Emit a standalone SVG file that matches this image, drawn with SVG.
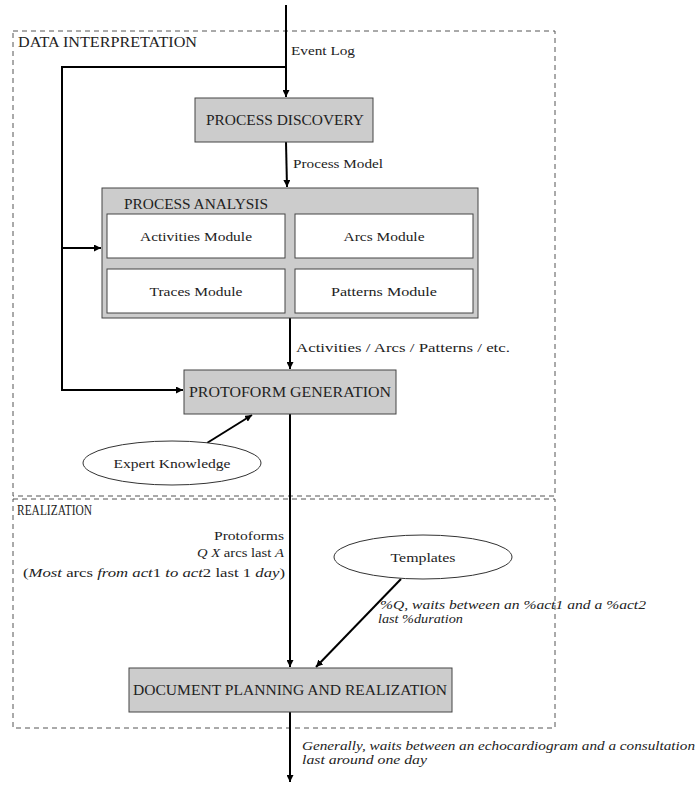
<svg xmlns="http://www.w3.org/2000/svg" width="697" height="785" viewBox="0 0 697 785">
<defs>
<marker id="ah" viewBox="0 0 10 10" refX="10" refY="5" markerWidth="7" markerHeight="7" markerUnits="userSpaceOnUse" orient="auto"><path d="M0,0 L10,5 L0,10 z" fill="#000"/></marker>
<style>
text{font-family:"Liberation Serif","DejaVu Serif",serif;fill:#222;}
.box{fill:#cccccc;stroke:#444;stroke-width:1;}
.wbox{fill:#fff;stroke:#444;stroke-width:1;}
.dash{fill:none;stroke:#555;stroke-width:1;stroke-dasharray:5,4;}
.c{fill:none;stroke:#000;stroke-width:2;}
.t{font-size:14.5px;text-anchor:middle;}
.m{font-size:13.5px;text-anchor:middle;}
.l{font-size:13.5px;}
.i{font-size:13px;font-style:italic;}
.ell{fill:#fff;stroke:#333;stroke-width:1;}
</style>
</defs>
<rect width="697" height="785" fill="#fff"/>
<g id="region-data">
<rect class="dash" x="13" y="31" width="542" height="465"/>
<text x="18" y="47" font-size="14.5" textLength="179" lengthAdjust="spacingAndGlyphs">DATA INTERPRETATION</text>
</g>
<g id="region-realization">
<rect class="dash" x="13" y="499" width="542" height="229"/>
<text x="17" y="515" font-size="14" textLength="75" lengthAdjust="spacingAndGlyphs">REALIZATION</text>
</g>
<g id="connectors">
<line class="c" x1="286" y1="5" x2="286" y2="97" marker-end="url(#ah)"/>
<polyline class="c" points="286,67 62,67 62,390 183,390" marker-end="url(#ah)"/>
<line class="c" x1="62" y1="248" x2="101" y2="248" marker-end="url(#ah)"/>
<line class="c" x1="286" y1="142" x2="287" y2="187" marker-end="url(#ah)"/>
<line class="c" x1="290" y1="318" x2="290" y2="369" marker-end="url(#ah)"/>
<line class="c" x1="207" y1="443" x2="252" y2="415" marker-end="url(#ah)"/>
<line class="c" x1="290" y1="414" x2="290" y2="667" marker-end="url(#ah)"/>
<line class="c" x1="401" y1="579" x2="316" y2="667" marker-end="url(#ah)"/>
<line class="c" x1="290" y1="712" x2="290" y2="782" marker-end="url(#ah)"/>
<text class="l" x="291" y="55" textLength="64" lengthAdjust="spacingAndGlyphs">Event Log</text>
<text class="l" x="293" y="168" textLength="90" lengthAdjust="spacingAndGlyphs">Process Model</text>
<text class="l" x="296" y="352" textLength="214" lengthAdjust="spacingAndGlyphs">Activities / Arcs / Patterns / etc.</text>
<text class="l" x="284" y="540" text-anchor="end" textLength="70" lengthAdjust="spacingAndGlyphs">Protoforms</text>
<text class="l" x="284" y="557" text-anchor="end" textLength="87" lengthAdjust="spacingAndGlyphs"><tspan font-style="italic">Q X</tspan> arcs last <tspan font-style="italic">A</tspan></text>
<text class="l" x="285" y="577" text-anchor="end" textLength="262" lengthAdjust="spacingAndGlyphs">(<tspan font-style="italic">Most</tspan> arcs <tspan font-style="italic">from act</tspan>1 <tspan font-style="italic">to act</tspan>2 last 1 <tspan font-style="italic">day</tspan>)</text>
<text class="i" x="380" y="609" textLength="266" lengthAdjust="spacingAndGlyphs">%Q, waits between an %act1 and a %act2</text>
<text class="i" x="378" y="623" textLength="85" lengthAdjust="spacingAndGlyphs">last %duration</text>
<text class="i" x="302" y="750" font-size="12" textLength="393" lengthAdjust="spacingAndGlyphs">Generally, waits between an echocardiogram and a consultation</text>
<text class="i" x="302" y="764" font-size="12" textLength="125" lengthAdjust="spacingAndGlyphs">last around one day</text>
</g>
<g id="process-discovery">
<rect class="box" x="195" y="98" width="178" height="44"/>
<text class="t" x="285" y="125" textLength="158" lengthAdjust="spacingAndGlyphs">PROCESS DISCOVERY</text>
</g>
<g id="process-analysis">
<rect class="box" x="102" y="188" width="376" height="130"/>
<text x="124" y="209" font-size="14.5" textLength="144" lengthAdjust="spacingAndGlyphs">PROCESS ANALYSIS</text>
</g>
<g id="activities-module">
<rect class="wbox" x="107" y="214" width="178" height="44"/>
<text class="m" x="196" y="241" textLength="112" lengthAdjust="spacingAndGlyphs">Activities Module</text>
</g>
<g id="arcs-module">
<rect class="wbox" x="295" y="214" width="178" height="44"/>
<text class="m" x="384" y="241" textLength="81" lengthAdjust="spacingAndGlyphs">Arcs Module</text>
</g>
<g id="traces-module">
<rect class="wbox" x="107" y="269" width="178" height="44"/>
<text class="m" x="196" y="296" textLength="93" lengthAdjust="spacingAndGlyphs">Traces Module</text>
</g>
<g id="patterns-module">
<rect class="wbox" x="295" y="269" width="178" height="44"/>
<text class="m" x="384" y="296" textLength="106" lengthAdjust="spacingAndGlyphs">Patterns Module</text>
</g>
<g id="protoform-generation">
<rect class="box" x="184" y="370" width="212" height="44"/>
<text class="t" x="290" y="397" textLength="202" lengthAdjust="spacingAndGlyphs">PROTOFORM GENERATION</text>
</g>
<g id="expert-knowledge">
<ellipse class="ell" cx="172" cy="463" rx="89" ry="22"/>
<text class="m" x="172" y="468" textLength="117" lengthAdjust="spacingAndGlyphs">Expert Knowledge</text>
</g>
<g id="templates">
<ellipse class="ell" cx="423" cy="557" rx="89" ry="22"/>
<text class="m" x="423" y="562" textLength="65" lengthAdjust="spacingAndGlyphs">Templates</text>
</g>
<g id="document-planning">
<rect class="box" x="129" y="668" width="323" height="44"/>
<text class="t" x="290" y="695" textLength="314" lengthAdjust="spacingAndGlyphs">DOCUMENT PLANNING AND REALIZATION</text>
</g>
</svg>
